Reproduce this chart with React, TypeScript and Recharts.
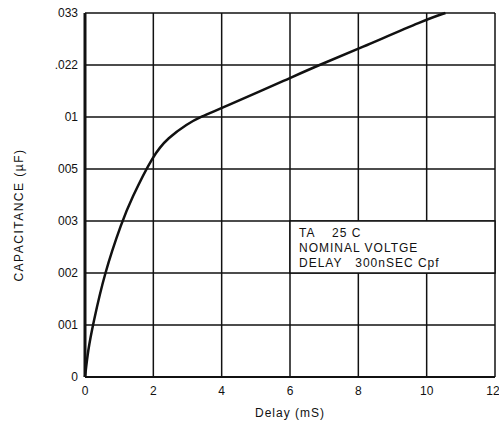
import { LineChart, Line, XAxis, YAxis, CartesianGrid, ReferenceArea } from 'recharts'

// y axis is evenly spaced by grid step, not by value
const capTicks = [0, 1, 2, 3, 4, 5, 6, 7]
const capLabels = ['0', '001', '002', '003', '005', '01', '.022', '033']
const delayTicks = [0, 2, 4, 6, 8, 10, 12]

// curve: delay (mS) vs capacitance grid step
const delay = [0, 0.09, 0.23, 0.57, 1.09, 1.34, 2, 2.43, 3, 3.37, 4, 6, 6.85, 8, 10, 10.55]
const capStep = [0, 0.52, 1, 2, 3, 3.4, 4.28, 4.6, 4.87, 5, 5.17, 5.75, 6, 6.31, 6.88, 7]

const noteLines = ['TA    25 C', 'NOMINAL VOLTGE', 'DELAY   300nSEC Cpf']

const data = delay.map((d, i) => ({ delay: d, cap: capStep[i] }))

const FONT = '"Liberation Sans", Arial, sans-serif'
const INK = '#111'

function NoteLabel(props: any) {
  const { x, y } = props.viewBox
  return (
    <g>
      {noteLines.map((t, i) => (
        <text
          key={i}
          x={x + 9}
          y={y + 16 + i * 15}
          fontSize={12}
          fontFamily={FONT}
          letterSpacing={1}
          fill={INK}
          style={{ whiteSpace: 'pre' }}
        >
          {t}
        </text>
      ))}
    </g>
  )
}

export default function App() {
  return (
    <div style={{ position: 'absolute', left: 0, top: 0, background: '#fff' }}>
      <LineChart width={499} height={427} data={data} margin={{ top: 13, right: 4, bottom: 0, left: 0 }}>
        <CartesianGrid stroke={INK} strokeWidth={1.5} />
        <XAxis
          dataKey="delay"
          type="number"
          domain={[0, 12]}
          ticks={delayTicks}
          height={50}
          axisLine={{ stroke: INK, strokeWidth: 2 }}
          tickLine={false}
          tickSize={0}
          tickMargin={9}
          tick={{ fill: INK, fontSize: 12, fontFamily: FONT }}
          label={() => (
            <text x={290} y={417} textAnchor="middle" fontSize={12} fontFamily={FONT} letterSpacing={1} fill={INK}>
              Delay (mS)
            </text>
          )}
        />
        <YAxis
          type="number"
          domain={[0, 7]}
          ticks={capTicks}
          width={85}
          axisLine={{ stroke: INK, strokeWidth: 3 }}
          tickLine={false}
          tickSize={0}
          tickMargin={7}
          tickFormatter={(v: number) => capLabels[v]}
          tick={{ fill: INK, fontSize: 12, fontFamily: FONT }}
          label={() => (
            <text
              x={19}
              y={215}
              transform="rotate(-90 19 215)"
              textAnchor="middle"
              dominantBaseline="central"
              fontSize={12}
              fontFamily={FONT}
              letterSpacing={1.5}
              fill={INK}
            >
              CAPACITANCE (µF)
            </text>
          )}
        />
        <ReferenceArea
          x1={6}
          x2={12}
          y1={2}
          y2={3}
          fill="#fff"
          fillOpacity={1}
          stroke={INK}
          strokeWidth={1.5}
          label={(p: any) => <NoteLabel {...p} />}
        />
        <Line
          dataKey="cap"
          type="basis"
          stroke={INK}
          strokeWidth={2.5}
          dot={false}
          isAnimationActive={false}
        />
      </LineChart>
    </div>
  )
}
